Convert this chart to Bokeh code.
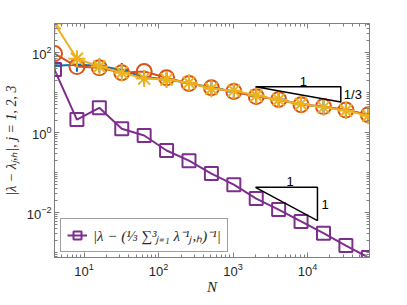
import numpy as np
from bokeh.plotting import figure
from bokeh.models import (Range1d, LogAxis, FixedTicker, Legend, LegendItem, Label,
                          CustomJSTickFormatter)
from bokeh.embed import file_html
from bokeh.resources import INLINE

# ---- data ----
N = [4, 8, 16, 32, 64, 128, 256, 512, 1024, 2048, 4096, 8192, 16384, 32768, 65536]
err_j1 = [46, 49, 46, 36, 24, 21, 17, 13, 10.5, 8.0, 6.6, 5.0, 4.3, 3.6, 2.7]
err_j2 = [93, 44, 41, 31, 33, 23, 16.7, 13, 10.5, 7.8, 6.6, 4.9, 4.4, 3.6, 2.75]
err_j3 = [525, 69, 44, 31, 22, 21, 17.4, 12.3, 11, 8.3, 6.5, 5.1, 4.2, 3.5, 2.6]
err_harm = [37, 2.08, 4.1, 1.23, 0.83, 0.35, 0.195, 0.093, 0.049, 0.022,
            0.0117, 0.0059, 0.0030, 0.00147, 0.00074]

x_ticks = [10, 100, 1000, 10000]
y_ticks = [1e-2, 1, 1e2]

# slope triangles (annotation)
tri1_x = [2000, 28000, 28000, 2000]
tri1_y = [13.8, 13.8, 5.7, 13.8]
tri2_x = [2000, 13600, 13600, 2000]
tri2_y = [0.042, 0.042, 0.0062, 0.042]

legend_text = "|λ − (⅓ ∑³ⱼ₌₁ λ⁻¹ⱼ,ₕ)⁻¹|"

blue, red, yellow, purple = "#0072BD", "#D95319", "#EDB120", "#7E2F8E"
axis_col = "#808080"
text_col = "#262626"

p = figure(width=391, height=297, x_axis_type="log", y_axis_type="log",
           x_range=Range1d(4, 68000), y_range=Range1d(0.00074, 525),
           output_backend="svg", toolbar_location=None,
           min_border_left=53, min_border_right=22, min_border_top=23,
           min_border_bottom=40)
p.xgrid.visible = False
p.ygrid.visible = False
p.outline_line_color = axis_col
p.background_fill_color = "white"

x_minor = [m * 10.0 ** k for k in range(0, 5) for m in range(2, 10)]
y_minor = [m * 10.0 ** k for k in range(-4, 3) for m in range(1, 10)]

def style_axis(ax, ticks, minor):
    ax.ticker = FixedTicker(ticks=ticks, minor_ticks=minor)
    ax.axis_line_color = axis_col
    ax.major_tick_line_color = axis_col
    ax.minor_tick_line_color = axis_col
    ax.major_tick_in = 5
    ax.major_tick_out = 0
    ax.minor_tick_in = 3
    ax.minor_tick_out = 0
    ax.major_label_text_font = "Liberation Sans"
    ax.major_label_text_font_size = "13px"
    ax.major_label_text_color = text_col

xa = p.xaxis[0]
ya = p.yaxis[0]
style_axis(xa, x_ticks, x_minor)
style_axis(ya, y_ticks, y_minor)
xa.major_label_standoff = 5
ya.major_label_standoff = 3
xa.axis_label = "N"
xa.axis_label_text_font = "Liberation Serif"
xa.axis_label_text_font_style = "italic"
xa.axis_label_text_font_size = "15px"
xa.axis_label_text_color = text_col
xa.axis_label_standoff = 0
ya.axis_label = "|λ − λⱼ,ₕ|, j = 1, 2, 3"
ya.axis_label_text_font = "Liberation Serif"
ya.axis_label_text_font_style = "italic"
ya.axis_label_text_font_size = "14px"
ya.axis_label_text_color = text_col
ya.axis_label_standoff = 5

top_ax = LogAxis()
style_axis(top_ax, x_ticks, x_minor)
top_ax.formatter = CustomJSTickFormatter(code="return ''")
top_ax.major_label_standoff = 0
right_ax = LogAxis()
style_axis(right_ax, y_ticks, y_minor)
right_ax.formatter = CustomJSTickFormatter(code="return ''")
right_ax.major_label_standoff = 0
p.add_layout(top_ax, "above")
p.add_layout(right_ax, "right")

lw = 2
p.line(N, err_j1, line_color=blue, line_width=lw)
p.scatter(N, err_j1, marker="cross", size=14, line_color=blue, line_width=lw)
p.line(N, err_j2, line_color=red, line_width=lw)
p.scatter(N, err_j2, marker="circle", size=15, line_color=red, fill_color=None, line_width=lw)
p.line(N, err_j3, line_color=yellow, line_width=lw)
p.scatter(N, err_j3, marker="asterisk", size=17, line_color=yellow, line_width=lw)
r_line = p.line(N, err_harm, line_color=purple, line_width=lw)
r_sq = p.scatter(N, err_harm, marker="square", size=13, line_color=purple,
                 fill_color=None, line_width=lw)

# slope triangles
p.line(tri1_x, tri1_y, line_color="black", line_width=1.5)
p.line(tri2_x, tri2_y, line_color="black", line_width=1.5)
lab_kw = dict(text_font="Liberation Sans", text_font_size="13px", text_color="black")
p.add_layout(Label(x=8800, y=13.8, text="1", text_align="center",
                   text_baseline="bottom", y_offset=1, **lab_kw))
p.add_layout(Label(x=28000, y=9.0, text="1/3", text_align="left",
                   text_baseline="middle", x_offset=3, **lab_kw))
p.add_layout(Label(x=5820, y=0.042, text="1", text_align="center",
                   text_baseline="bottom", y_offset=1, **lab_kw))
p.add_layout(Label(x=13600, y=0.0156, text="1", text_align="left",
                   text_baseline="middle", x_offset=4, **lab_kw))

legend = Legend(items=[LegendItem(label=legend_text, renderers=[r_line, r_sq])],
                location=(6, 5), padding=6, margin=0, spacing=0,
                glyph_width=20, glyph_height=20, label_height=20,
                label_standoff=6,
                label_text_font="Liberation Serif", label_text_font_size="15px",
                label_text_font_style="italic", label_text_color=text_col,
                border_line_color="#404040", border_line_width=1,
                background_fill_color="white", background_fill_alpha=1)
p.add_layout(legend, "center")

open("out.html", "w").write(file_html(p, INLINE))
